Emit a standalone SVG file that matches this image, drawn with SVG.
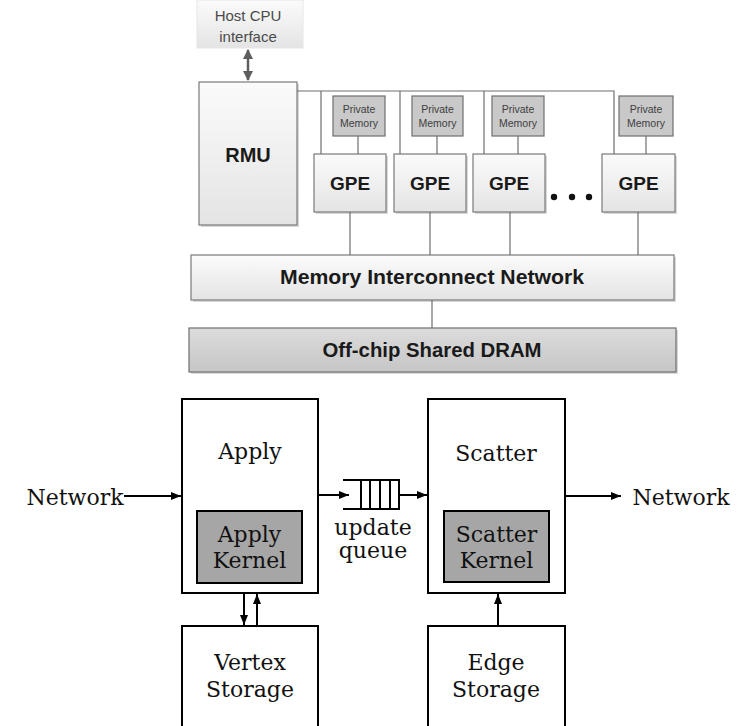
<svg xmlns="http://www.w3.org/2000/svg" width="747" height="726" viewBox="0 0 747 726">
  <defs>
    <linearGradient id="boxFill" x1="0" y1="0" x2="0" y2="1">
      <stop offset="0" stop-color="#fbfbfb"/>
      <stop offset="1" stop-color="#e4e4e4"/>
    </linearGradient>
    <linearGradient id="darkFill" x1="0" y1="0" x2="0" y2="1">
      <stop offset="0" stop-color="#dcdcdc"/>
      <stop offset="1" stop-color="#c6c6c6"/>
    </linearGradient>
    <marker id="grayHead" viewBox="0 0 10 10" refX="9" refY="5" markerWidth="10" markerHeight="10" markerUnits="userSpaceOnUse" orient="auto-start-reverse">
      <path d="M0,0 L10,5 L0,10 z" fill="#5e5e5e"/>
    </marker>
    <marker id="blackHead" viewBox="0 0 10 8" refX="10" refY="4" markerWidth="11" markerHeight="8" markerUnits="userSpaceOnUse" orient="auto">
      <path d="M0,0 L10,4 L0,8 z" fill="#000"/>
    </marker>
  </defs>
  <style>
    .blk { fill: url(#boxFill); stroke: #7a7a7a; stroke-width: 1.2; }
    .mem { fill: #c9c9c9; stroke: #6e6e6e; stroke-width: 1.2; }
    .dram { fill: url(#darkFill); stroke: #6e6e6e; stroke-width: 1.2; }
    .shadow { fill: #d8d8d8; }
    .wire { stroke: #6e6e6e; stroke-width: 1.2; fill: none; }
    .lbl { font-family: "Liberation Sans", Arial, sans-serif; font-weight: bold; fill: #1a1a1a; text-anchor: middle; }
    .small { font-family: "Liberation Sans", Arial, sans-serif; font-size: 10.5px; fill: #404040; text-anchor: middle; }
    .host { font-family: "Liberation Sans", Arial, sans-serif; font-size: 15px; fill: #4a4a4a; text-anchor: middle; }
    .frame { fill: #fff; stroke: #000; stroke-width: 2; }
    .kernel { fill: #a6a6a6; stroke: #000; stroke-width: 2; }
    .serif { font-family: "DejaVu Serif", serif; font-size: 22px; fill: #111; text-anchor: middle; }
    .link { stroke: #000; stroke-width: 2; fill: none; }
  </style>

  <!-- stray corner mark at the top edge -->
  <path d="M260,7 H271 V0" fill="none" stroke="#000" stroke-width="2.2"/>

  <!-- ===== accelerator overview ===== -->
  <g id="host-cpu">
    <rect x="197" y="0" width="106" height="48" fill="url(#boxFill)" stroke="#e6e6e6" stroke-width="1"/>
    <text class="host" x="248" y="21">Host CPU</text>
    <text class="host" x="248" y="42">interface</text>
  </g>

  <g id="rmu">
    <rect class="shadow" x="201" y="84" width="98" height="143"/>
    <rect class="blk" x="199" y="82" width="98" height="143"/>
    <text class="lbl" x="248" y="162" font-size="20">RMU</text>
  </g>

  <g id="pm1">
    <rect class="mem" x="333" y="96" width="52" height="40"/>
    <text class="small" x="359" y="113">Private</text>
    <text class="small" x="359" y="127">Memory</text>
  </g>
  <g id="pm2">
    <rect class="mem" x="412" y="96" width="51" height="40"/>
    <text class="small" x="437.5" y="113">Private</text>
    <text class="small" x="437.5" y="127">Memory</text>
  </g>
  <g id="pm3">
    <rect class="mem" x="492" y="96" width="52" height="40"/>
    <text class="small" x="518" y="113">Private</text>
    <text class="small" x="518" y="127">Memory</text>
  </g>
  <g id="pm4">
    <rect class="mem" x="619" y="96" width="54" height="40"/>
    <text class="small" x="646" y="113">Private</text>
    <text class="small" x="646" y="127">Memory</text>
  </g>

  <g id="gpe1">
    <rect class="shadow" x="316" y="156" width="72" height="58"/>
    <rect class="blk" x="314" y="154" width="72" height="58"/>
    <text class="lbl" x="350" y="190" font-size="19">GPE</text>
  </g>
  <g id="gpe2">
    <rect class="shadow" x="396" y="156" width="72" height="58"/>
    <rect class="blk" x="394" y="154" width="72" height="58"/>
    <text class="lbl" x="430" y="190" font-size="19">GPE</text>
  </g>
  <g id="gpe3">
    <rect class="shadow" x="475" y="156" width="72" height="58"/>
    <rect class="blk" x="473" y="154" width="72" height="58"/>
    <text class="lbl" x="509" y="190" font-size="19">GPE</text>
  </g>
  <g id="gpe4">
    <rect class="shadow" x="604" y="156" width="73" height="58"/>
    <rect class="blk" x="602" y="154" width="73" height="58"/>
    <text class="lbl" x="638.5" y="190" font-size="19">GPE</text>
  </g>

  <g id="ellipsis" fill="#111">
    <circle cx="554" cy="197" r="3.2"/>
    <circle cx="572" cy="197" r="3.2"/>
    <circle cx="589" cy="197" r="3.2"/>
  </g>

  <g id="interconnect">
    <rect class="shadow" x="193" y="257" width="483" height="45"/>
    <rect class="blk" x="191" y="255" width="483" height="45"/>
    <text class="lbl" x="432" y="284" font-size="19.5" textLength="304" lengthAdjust="spacingAndGlyphs">Memory Interconnect Network</text>
  </g>

  <g id="dram">
    <rect class="shadow" x="191" y="330" width="487" height="44"/>
    <rect class="dram" x="189" y="328" width="487" height="44"/>
    <text class="lbl" x="432" y="357" font-size="19.5" textLength="219" lengthAdjust="spacingAndGlyphs">Off-chip Shared DRAM</text>
  </g>

  <g id="overview-links">
    <line x1="248" y1="50" x2="248" y2="80" stroke="#5e5e5e" stroke-width="2.5" marker-start="url(#grayHead)" marker-end="url(#grayHead)"/>
    <path class="wire" d="M297,91 H614 V154"/>
    <line class="wire" x1="321" y1="91" x2="321" y2="154"/>
    <line class="wire" x1="400" y1="91" x2="400" y2="154"/>
    <line class="wire" x1="484" y1="91" x2="484" y2="154"/>
    <line class="wire" x1="358" y1="136" x2="358" y2="154"/>
    <line class="wire" x1="437" y1="136" x2="437" y2="154"/>
    <line class="wire" x1="518" y1="136" x2="518" y2="154"/>
    <line class="wire" x1="646" y1="136" x2="646" y2="154"/>
    <line class="wire" x1="350" y1="212" x2="350" y2="255"/>
    <line class="wire" x1="430" y1="212" x2="430" y2="255"/>
    <line class="wire" x1="510" y1="212" x2="510" y2="255"/>
    <line class="wire" x1="638" y1="212" x2="638" y2="255"/>
    <line class="wire" x1="432" y1="300" x2="432" y2="328"/>
  </g>

  <!-- ===== apply / scatter pipeline ===== -->
  <g id="apply">
    <rect class="frame" x="182" y="399" width="136" height="194"/>
    <text class="serif" x="250" y="459">Apply</text>
  </g>
  <g id="apply-kernel">
    <rect class="kernel" x="197" y="511" width="105" height="72"/>
    <text class="serif" x="249.5" y="542">Apply</text>
    <text class="serif" x="249.5" y="568">Kernel</text>
  </g>

  <g id="scatter">
    <rect class="frame" x="428" y="399" width="137" height="194"/>
    <text class="serif" x="496" y="461">Scatter</text>
  </g>
  <g id="scatter-kernel">
    <rect class="kernel" x="444" y="511" width="105" height="71"/>
    <text class="serif" x="496.5" y="542">Scatter</text>
    <text class="serif" x="496.5" y="568">Kernel</text>
  </g>

  <g id="update-queue">
    <path class="link" d="M343,480 H399 V509 H343 M361,480 V509 M370,480 V509 M380,480 V509 M390,480 V509"/>
    <text class="serif" x="373" y="535">update</text>
    <text class="serif" x="373" y="558">queue</text>
  </g>

  <g id="vertex-storage">
    <rect class="frame" x="182" y="626" width="136" height="110"/>
    <text class="serif" x="250" y="670">Vertex</text>
    <text class="serif" x="250" y="697">Storage</text>
  </g>
  <g id="edge-storage">
    <rect class="frame" x="428" y="626" width="137" height="110"/>
    <text class="serif" x="496" y="670">Edge</text>
    <text class="serif" x="496" y="697">Storage</text>
  </g>

  <g id="net-in">
    <text class="serif" x="75" y="505">Network</text>
  </g>
  <g id="net-out">
    <text class="serif" x="681" y="505">Network</text>
  </g>

  <g id="pipeline-links">
    <line class="link" x1="124" y1="496" x2="181" y2="496" marker-end="url(#blackHead)"/>
    <line class="link" x1="318" y1="495" x2="349" y2="495" marker-end="url(#blackHead)"/>
    <line class="link" x1="399" y1="495" x2="427" y2="495" marker-end="url(#blackHead)"/>
    <line class="link" x1="565" y1="496" x2="621" y2="496" marker-end="url(#blackHead)"/>
    <line class="link" x1="244" y1="593" x2="244" y2="625" marker-end="url(#blackHead)"/>
    <line class="link" x1="257" y1="626" x2="257" y2="594" marker-end="url(#blackHead)"/>
    <line class="link" x1="498" y1="626" x2="498" y2="594" marker-end="url(#blackHead)"/>
  </g>
</svg>
